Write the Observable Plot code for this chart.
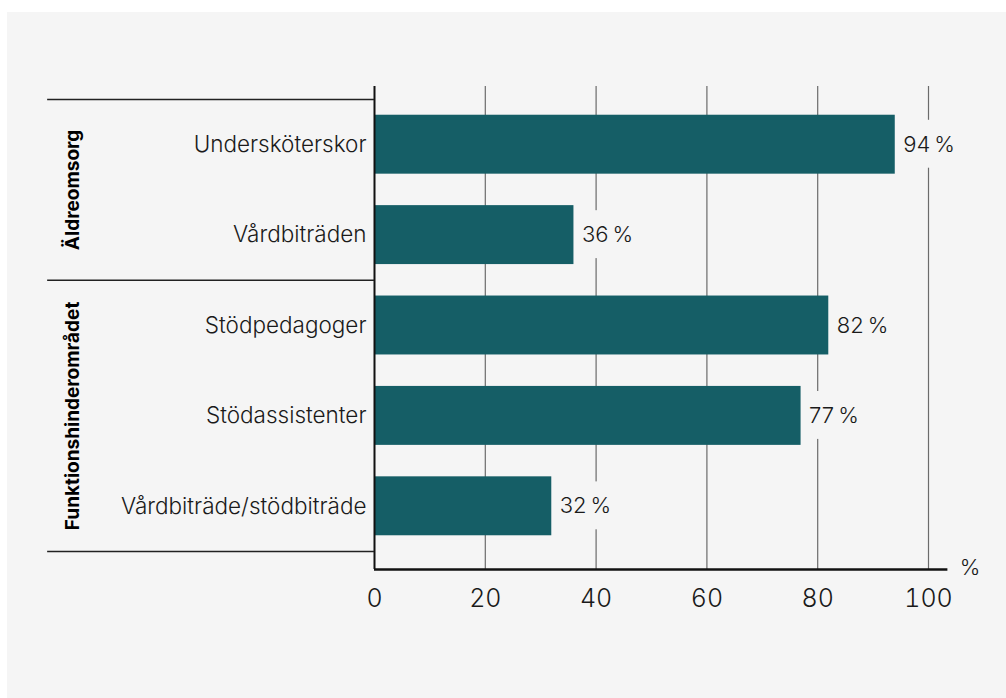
<!DOCTYPE html>
<html>
<head>
<meta charset="utf-8">
<script src="https://cdn.jsdelivr.net/npm/d3@7"></script>
<script src="https://cdn.jsdelivr.net/npm/@observablehq/plot@0.6"></script>
<style>
  html, body { margin: 0; padding: 0; background: #ffffff; }
  #panel { position: absolute; left: 7px; top: 12px; width: 999px; height: 686px; background: #f5f5f5; }
  #panel svg { display: block; }
</style>
</head>
<body>
<div id="panel"></div>
<script>
const categories = ["Undersköterskor", "Vårdbiträden", "Stödpedagoger", "Stödassistenter", "Vårdbiträde/stödbiträde"];
const values = [94, 36, 82, 77, 32];
const groups = ["Äldreomsorg", "Funktionshinderområdet"];
const groupSizes = [2, 3];
const xTicks = [0, 20, 40, 60, 80, 100];
const unitLabel = "%";

const data = categories.map((c, i) => ({category: c, value: values[i], i}));
let start = 0;
const groupData = groups.map((g, k) => {
  const s = start; start += groupSizes[k];
  return {name: g, from: s - 0.5, to: start - 0.5};
});
const separators = [-0.5, ...groupData.map(g => g.to)];

const bg = "#f5f5f5";
const teal = "#155e66";
const ink = "#1a1a1a";
const yTop = -0.644, yBottom = 4.70;

const chart = Plot.plot({
  width: 999,
  height: 686,
  marginLeft: 367,
  marginRight: 78,
  marginTop: 87,
  marginBottom: 147,
  style: {background: "transparent", fontFamily: "Inter, sans-serif", fontSize: "25px", color: ink, fontWeight: 300},
  x: {domain: [0, 100], ticks: xTicks, tickSize: 0, tickPadding: 38, label: null, axis: "bottom"},
  y: {domain: [-0.5, 4.5], reverse: true, axis: null},
  marks: [
    Plot.ruleX(xTicks.slice(1), {y1: yTop, y2: yBottom, stroke: "#6b6b6b", strokeWidth: 1.2}),
    Plot.rect(data, {x1: d => d.value, x2: d => d.value + 10.5, y1: d => d.i - 0.27, y2: d => d.i + 0.26, fill: bg}),
    Plot.rectX(data, {x1: 0, x2: "value", y1: d => d.i - 0.326, y2: d => d.i + 0.326, fill: teal}),
    Plot.ruleX([0], {y1: yTop, y2: yBottom, stroke: "#111", strokeWidth: 2}),
    Plot.ruleY([yBottom], {x1: 0, x2: 103.5, stroke: "#111", strokeWidth: 2.5}),
    Plot.ruleY(separators, {x1: -59, x2: 0, stroke: "#222", strokeWidth: 1.5}),
    Plot.text(data, {x: 0, y: "i", text: "category", dx: -8, textAnchor: "end", fill: ink, fontSize: 22.5}),
    Plot.text(data, {x: "value", y: "i", text: d => d.value + "\u2009" + unitLabel, dx: 8, textAnchor: "start", fill: ink, fontSize: 22}),
    Plot.text(groupData, {x: -54.5, y: d => (d.from + d.to) / 2, text: "name", rotate: -90, fontWeight: 700, fontSize: 19, fill: "#000"}),
    Plot.text([unitLabel], {x: 107.5, y: 4.68, text: d => d, fill: ink, fontSize: 22})
  ]
});
document.getElementById("panel").appendChild(chart);
</script>
</body>
</html>
